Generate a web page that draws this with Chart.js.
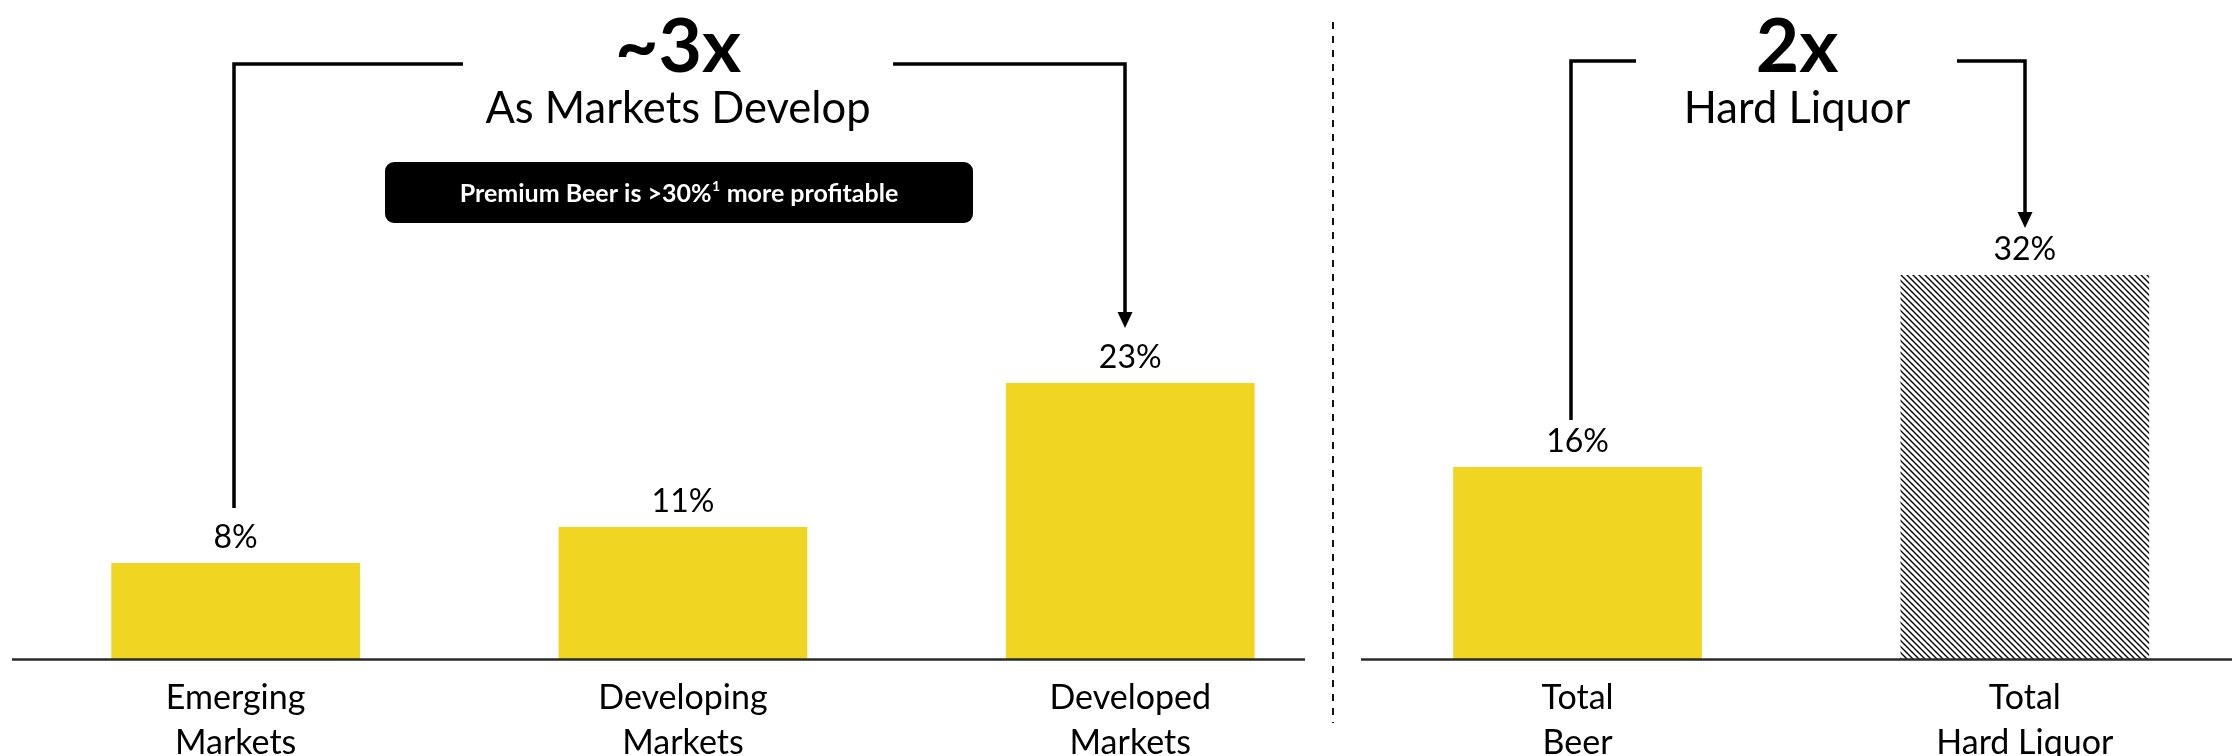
<!DOCTYPE html>
<html><head><meta charset="utf-8">
<script src="https://cdn.jsdelivr.net/npm/chart.js@4.4.1/dist/chart.umd.min.js"></script>
<style>
html,body{margin:0;padding:0;background:#fff;overflow:hidden;width:2232px;height:756px}
canvas{position:absolute;left:0;top:0}
</style></head>
<body>
<canvas id="c" width="2260" height="756" style="width:2260px;height:756px"></canvas>
<script>
// ---- data ----
const categories = [["Emerging","Markets"],["Developing","Markets"],["Developed","Markets"],["Total","Beer"],["Total","Hard Liquor"]];
const values = [8, 11, 23, 16, 32];
const valueLabels = ["8%","11%","23%","16%","32%"];
const barStyles = ["solid","solid","solid","solid","hatch"];
const headlineBig = ["~3x","2x"];
const headlineSub = ["As Markets Develop","Hard Liquor"];
const calloutParts = ["Premium Beer is >30%","1"," more profitable"];
const yMax = 40;

// ---- style / layout ----
const FONT = "Lato, 'Liberation Sans', Arial, sans-serif";
const YELLOW = "#F1D523";
const headlineX = [678, 1797];
const brackets = [
  {pts:[[234,508],[234,64],[463,64]], arrow:false},
  {pts:[[893,64],[1125,64],[1125,328]], arrow:true},
  {pts:[[1571,420],[1571,61],[1636,61]], arrow:false},
  {pts:[[1957,61],[2025,61],[2025,228]], arrow:true}
];

function hatchPattern(){
  const s=6, c=document.createElement('canvas'); c.width=s; c.height=s;
  const g=c.getContext('2d'); g.fillStyle='#fff'; g.fillRect(0,0,s,s);
  g.strokeStyle='#000'; g.lineWidth=1.35;
  for(const k of [-s,0,s]){ g.beginPath(); g.moveTo(k-1,-1); g.lineTo(k+s+1,s+1); g.stroke(); }
  return g.createPattern(c,'repeat');
}
const pattern = hatchPattern();

const annot = {
  id:'annot',
  afterDraw(chart){
    const ctx=chart.ctx, area=chart.chartArea, ys=chart.scales.y;
    const meta=chart.getDatasetMeta(0);
    ctx.save();
    // baseline segments
    const y0 = ys.getPixelForValue(0)+0.5;
    ctx.strokeStyle='#2a2a2a'; ctx.lineWidth=2.5;
    ctx.beginPath(); ctx.moveTo(area.left,y0); ctx.lineTo(1305,y0); ctx.stroke();
    ctx.beginPath(); ctx.moveTo(1361,y0); ctx.lineTo(2232,y0); ctx.stroke();
    // divider
    ctx.setLineDash([7,7]); ctx.lineWidth=2; ctx.strokeStyle='#111';
    ctx.beginPath(); ctx.moveTo(1333,22); ctx.lineTo(1333,723); ctx.stroke();
    ctx.setLineDash([]);
    // value labels
    ctx.fillStyle='#000'; ctx.textAlign='center'; ctx.textBaseline='alphabetic';
    ctx.font="32px "+FONT;
    meta.data.forEach((b,i)=>{ ctx.fillText(valueLabels[i], b.x, b.y-15); });
    // headlines
    for(let i=0;i<headlineBig.length;i++){
      ctx.font="bold 75px "+FONT; ctx.fillText(headlineBig[i], headlineX[i], 72);
      ctx.font="43.5px "+FONT; ctx.fillText(headlineSub[i], headlineX[i], 123);
    }
    // brackets
    ctx.strokeStyle='#000'; ctx.fillStyle='#000'; ctx.lineWidth=3.5; ctx.lineJoin='miter'; ctx.lineCap='butt';
    brackets.forEach(br=>{
      const p=br.pts.map(q=>q.slice());
      const last=p[p.length-1];
      const tipY=last[1];
      if(br.arrow) last[1]=tipY-14;
      ctx.beginPath(); ctx.moveTo(p[0][0],p[0][1]);
      for(let k=1;k<p.length;k++) ctx.lineTo(p[k][0],p[k][1]);
      ctx.stroke();
      if(br.arrow){
        ctx.beginPath(); ctx.moveTo(last[0]-7.5,tipY-16); ctx.lineTo(last[0]+7.5,tipY-16); ctx.lineTo(last[0],tipY); ctx.closePath(); ctx.fill();
      }
    });
    // callout box
    ctx.fillStyle='#000';
    ctx.beginPath(); ctx.roundRect(385,162,588,61,9); ctx.fill();
    const f1="bold 25px "+FONT, f2="bold 14px "+FONT;
    ctx.font=f1; const w1=ctx.measureText(calloutParts[0]).width, w3=ctx.measureText(calloutParts[2]).width;
    ctx.font=f2; const w2=ctx.measureText(calloutParts[1]).width+1;
    let x=679-(w1+w2+w3)/2;
    ctx.fillStyle='#fff'; ctx.textAlign='left';
    ctx.font=f1; ctx.fillText(calloutParts[0],x,202); x+=w1;
    ctx.font=f2; ctx.fillText(calloutParts[1],x+0.5,191); x+=w2;
    ctx.font=f1; ctx.fillText(calloutParts[2],x,202);
    ctx.restore();
  }
};

new Chart(document.getElementById('c').getContext('2d'),{
  type:'bar',
  data:{labels:categories,datasets:[{
    data:values,
    backgroundColor:values.map((v,i)=>barStyles[i]==='hatch'?pattern:YELLOW),
    borderWidth:0, categoryPercentage:1, barPercentage:0.556
  }]},
  options:{
    responsive:false, animation:false, devicePixelRatio:1,
    layout:{padding:{left:12,right:11.5,top:179,bottom:0}},
    plugins:{legend:{display:false},tooltip:{enabled:false}},
    scales:{
      x:{grid:{display:false,drawTicks:false},border:{display:false},
         ticks:{color:'#000',font:{family:FONT,size:34,lineHeight:1.32},padding:17,maxRotation:0,minRotation:0,autoSkip:false},
         afterFit:s=>{s.height=97;}},
      y:{display:false,min:0,max:yMax}
    }
  },
  plugins:[annot]
});
</script>
</body></html>
